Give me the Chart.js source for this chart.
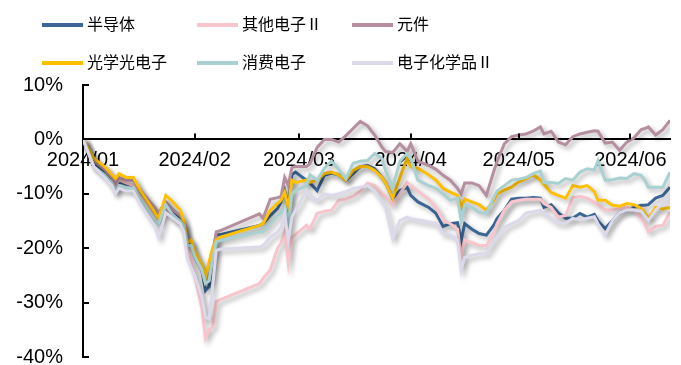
<!DOCTYPE html>
<html>
<head>
<meta charset="utf-8">
<script src="https://cdn.jsdelivr.net/npm/chart.js@4.4.1/dist/chart.umd.min.js"></script>
<style>
  body { margin: 0; background: #fff; }
  #wrap { position: relative; width: 681px; height: 365px; }
  #legend { position: absolute; left: 0; top: 0; width: 681px; height: 80px;
            font-family: "Noto Sans CJK SC", sans-serif; font-size: 16px; color: #000; }
  .item { position: absolute; height: 20px; line-height: 20px; white-space: nowrap; }
  .swatch { display: inline-block; width: 41px; height: 4px; vertical-align: middle; margin-right: 4px; margin-top: -2px; }
</style>
</head>
<body>
<div id="wrap">
  <canvas id="chart"></canvas>
  <div id="legend"></div>
</div>
<script>
// --- DATA (values in %) ---
const dates = [
  '2024-01-01','2024-01-04','2024-01-07','2024-01-09','2024-01-10','2024-01-11','2024-01-13','2024-01-15','2024-01-17',
  '2024-01-19','2024-01-21','2024-01-22','2024-01-24','2024-01-26','2024-01-28','2024-01-29','2024-01-30','2024-01-31',
  '2024-02-01','2024-02-03','2024-02-04','2024-02-05','2024-02-06','2024-02-07','2024-02-08',
  '2024-02-19','2024-02-20','2024-02-22','2024-02-24','2024-02-25','2024-02-26','2024-02-27','2024-02-28','2024-02-29',
  '2024-03-03','2024-03-04','2024-03-06','2024-03-08','2024-03-10','2024-03-12','2024-03-14','2024-03-16','2024-03-18',
  '2024-03-20','2024-03-22','2024-03-24','2024-03-25','2024-03-27','2024-03-29','2024-03-31',
  '2024-04-01','2024-04-03','2024-04-06','2024-04-08','2024-04-10','2024-04-12','2024-04-14','2024-04-15','2024-04-16',
  '2024-04-18','2024-04-20','2024-04-22','2024-04-24','2024-04-25','2024-04-27','2024-04-29',
  '2024-05-01','2024-05-03','2024-05-05','2024-05-07','2024-05-08','2024-05-10','2024-05-12','2024-05-14','2024-05-16',
  '2024-05-18','2024-05-20','2024-05-22','2024-05-23','2024-05-25','2024-05-27','2024-05-29','2024-05-31',
  '2024-06-02','2024-06-04','2024-06-05','2024-06-06','2024-06-08','2024-06-10','2024-06-12'
];

const semiconductor = [
  0, -4.5, -6, -7.5, -9, -7.8, -8.2, -8.5, -10, -12, -13.5, -14, -12, -13, -14.5, -15.5, -19.5, -19,
  -21.5, -24, -27.8, -27, -22, -17.6, -17.5,
  -15.8, -15.5, -14, -12.7, -11.5, -9.4, -12.5, -6.5, -6,
  -7.5, -8, -9.4, -6.6, -6.2, -6.5, -7.5, -6.3, -5, -4.8, -5.4, -7, -8, -10.8, -9.4, -8.8,
  -10.3, -11.5, -12.5, -13.6, -16, -15.5, -15.3, -18.6, -15.5, -16.5, -17.3, -17.6, -15.8, -14.5, -13, -11,
  -10.8, -10.8, -10.7, -10.8, -12.5, -12, -13.5, -14.5, -14.5, -13.6, -14.3, -13.8, -15, -16.4, -14.9, -13.5, -13,
  -12.5, -12.1, -12.1, -12, -10.8, -10.3, -8.8
];
const otherElec = [
  0, -3.5, -5.5, -7, -8.5, -7.5, -8, -8.5, -10.5, -12.5, -14.5, -15, -12.5, -14.5, -15.5, -16.5, -20, -22,
  -25, -31, -36.5, -35, -34.5, -29.8, -29.5,
  -26.5, -25.5, -24, -20, -19, -17, -22.8, -18, -17.5,
  -15.8, -16.5, -13.6, -13.2, -13, -11.2, -11, -10.5, -9.5, -8, -8.5, -10, -10.5, -12.1, -10, -7.9,
  -8.5, -9.5, -11, -12.5, -14.9, -15.5, -16.5, -21.7, -18.5, -19, -19.5, -19.5, -17.3, -15.5, -13, -11.5,
  -11.2, -11, -11, -11, -11.8, -12.5, -14.3, -14, -10.7, -10.5, -10.8, -11.6, -12, -13, -13, -12.7, -12.5,
  -13, -14.5, -15.5, -17, -16, -15.8, -13.4
];
const components = [
  0, -4, -5.5, -7, -8, -7, -7.5, -7.5, -9.5, -11, -12.5, -13.5, -11.5, -13, -14, -15, -18, -19,
  -21, -24, -26.5, -26, -21, -17, -16.8,
  -13.7, -14.5, -11, -10.7, -10.5, -7, -8.5, -5.2, -5,
  -5, -4.5, -1.5, 0, 0, -0.5, 0.7, 2, 3.3, 2.5, 0.8, -1.4, -2.2, -2.4, -0.8, -2.2,
  -0.8, -4, -4.8, -5.5, -6.6, -7.5, -9, -10, -8, -8, -8.5, -10.3, -6, -4, -0.8, 0.5,
  0.8, 1, 1.5, 2.3, 1, 1.5, -0.5, -1, 0.5, 1, 1.3, 1.6, 1.5, -0.7, -0.5, -2, -0.5,
  0.3, 1.8, 2, 2.3, 0.8, 1.8, 3.5
];
const optoelec = [
  0, -3.5, -5, -6.5, -7.2, -6.3, -7, -7, -9.5, -11.5, -13.5, -14.5, -10.3, -11.5, -13, -15, -19, -18.5,
  -20.5, -23, -25.3, -22.5, -20, -18.5, -18,
  -15.8, -15.5, -13, -11.8, -11.2, -9.7, -12.5, -7.5, -7.9,
  -7.5, -7.9, -7.5, -6.3, -6, -6.5, -7.5, -5.7, -5, -5, -5.7, -7, -8, -10.8, -7, -3.5,
  -5, -5.3, -6.5, -7.5, -9, -9.7, -10.3, -12.5, -11, -11.5, -12, -13, -11.2, -10, -9.3, -8.8,
  -7.8, -7.2, -6.5, -7.5, -8.3, -9.8, -10.3, -10.8, -8.5, -8.8, -8.5, -9.6, -11.2, -11.2, -12.1, -12.3, -11.8,
  -12, -12.7, -13.5, -14.5, -12.5, -12.8, -12.5
];
const consumer = [
  0, -5, -6.5, -8, -9.5, -8.5, -9, -9, -11, -13, -15, -15.5, -12, -14, -15, -16, -19.5, -19.5,
  -21.5, -24, -26.5, -26, -22, -18.8, -18.6,
  -17, -17, -15.5, -14, -13.5, -12.5, -15.5, -10, -9.4,
  -8.5, -6.5, -7.5, -5.3, -4, -5.5, -7.2, -4.4, -4, -3.9, -2.6, -3.5, -5.7, -8.8, -4, -2.6,
  -3.5, -7.5, -8.5, -9, -10, -11.2, -10.8, -14.9, -12, -12.5, -13.4, -13.6, -10.7, -9.5, -8.5, -7.5,
  -7.3, -7, -6.3, -5.8, -7.9, -7.9, -8.1, -7.2, -7.5, -6, -5.4, -5.6, -3.9, -7.5, -7.4, -7.1, -7.2,
  -6.3, -6.6, -7.5, -8.8, -8.8, -8.8, -6
];
const chemicals = [
  0, -5, -7, -8.5, -10, -9, -9.5, -9.5, -12, -14, -16, -18, -13.5, -14.5, -15.5, -17, -22, -23.5,
  -25, -29, -32.7, -33, -27, -20.4, -20.2,
  -19.8, -19.5, -18, -17, -16.2, -13.6, -18.6, -14.3, -13,
  -9.4, -10.5, -11.2, -10, -10.3, -10, -9.6, -9, -8.8, -8.5, -9.5, -11.5, -12.5, -18.2, -14.9, -14.3,
  -14.6, -14.8, -15.2, -15.4, -17.3, -17.5, -18.5, -24, -21.7, -21.3, -21, -21, -19, -18, -16.2, -15.5,
  -14.9, -13.5, -13.3, -13, -13.6, -14.5, -15.4, -15.4, -14.5, -14.8, -14.5, -14.2, -15.5, -17.6, -14.9, -13.5, -13,
  -13, -13.2, -14, -14.9, -13, -11.8, -10.3
];

const seriesNames = ['半导体', '其他电子Ⅱ', '元件', '光学光电子', '消费电子', '电子化学品Ⅱ'];
const seriesValues = [semiconductor, otherElec, components, optoelec, consumer, chemicals];
const seriesColors = ['#3B6696', '#F9C5CC', '#B58EA0', '#FFC000', '#A9D1D2', '#DCD9EA'];

const monthLabels = ['2024/01', '2024/02', '2024/03', '2024/04', '2024/05', '2024/06'];
const yTicks = [10, 0, -10, -20, -30, -40];

// --- HELPERS ---
const base = Date.UTC(2024, 0, 1);
function dayOf(str) {
  const p = str.split(/[-\/]/).map(Number);
  return Math.round((Date.UTC(p[0], p[1] - 1, p[2] || 1) - base) / 86400000);
}
const days = dates.map(dayOf);
const monthStarts = monthLabels.map(dayOf);

// --- LEGEND (3 columns x 2 rows) ---
const legend = document.getElementById('legend');
seriesNames.forEach((name, i) => {
  const col = i % 3, row = Math.floor(i / 3);
  const el = document.createElement('div');
  el.className = 'item';
  el.style.left = (42 + col * 155) + 'px';
  el.style.top = (13 + row * 38) + 'px';
  el.innerHTML = '<span class="swatch" style="background:' + seriesColors[i] + '"></span>' + name;
  legend.appendChild(el);
});

// --- PLUGIN: line shadows + inward tick marks ---
const decorations = {
  id: 'decorations',
  beforeDatasetsDraw(chart) {
    const ctx = chart.ctx;
    ctx.save();
    ctx.shadowColor = 'rgba(0,0,0,0.32)';
    ctx.shadowBlur = 5;
    ctx.shadowOffsetX = 3;
    ctx.shadowOffsetY = 3;
  },
  afterDatasetsDraw(chart) {
    chart.ctx.restore();
  },
  afterDraw(chart) {
    const { ctx, scales: { x, y } } = chart;
    const y0 = y.getPixelForValue(0);
    ctx.save();
    ctx.strokeStyle = '#000';
    ctx.lineWidth = 2;
    ctx.beginPath();
    y.ticks.forEach(t => {
      const py = Math.round(y.getPixelForValue(t.value));
      ctx.moveTo(x.left, py);
      ctx.lineTo(x.left + 6, py);
    });
    x.ticks.forEach(t => {
      const px = Math.round(x.getPixelForValue(t.value));
      ctx.moveTo(px, y0);
      ctx.lineTo(px, y0 - 6);
    });
    ctx.stroke();
    ctx.restore();
  }
};

// --- CHART ---
const n = seriesNames.length;
const ctx = document.getElementById('chart').getContext('2d');
new Chart(ctx, {
  type: 'line',
  data: {
    datasets: seriesNames.map((name, i) => ({
      label: name,
      data: seriesValues[i].map((v, k) => ({ x: days[k], y: v })),
      borderColor: seriesColors[i],
      borderWidth: 3,
      pointRadius: 0,
      tension: 0,
      fill: false,
      order: n - i // later series drawn on top
    }))
  },
  options: {
    responsive: true,
    maintainAspectRatio: false,
    animation: false,
    events: [],
    layout: { padding: { top: 85, left: 16, right: 11, bottom: 8 } },
    plugins: { legend: { display: false }, tooltip: { enabled: false } },
    scales: {
      x: {
        type: 'linear',
        position: { y: 0 },
        z: 1, // labels and zero line sit on top of the series
        min: days[0],
        max: days[days.length - 1],
        grid: { display: false, drawTicks: false },
        border: { display: true, color: '#000', width: 2 },
        afterBuildTicks: s => { s.ticks = monthStarts.map(v => ({ value: v })); },
        // axis sits on the zero line, so it should not reserve any room
        afterFit: s => { s.height = 0; s.paddingLeft = 0; s.paddingRight = 0; },
        ticks: {
          autoSkip: false,
          maxRotation: 0,
          padding: 9,
          color: '#000',
          font: { family: '"Liberation Sans", Arial, sans-serif', size: 20 },
          callback: (v, i) => monthLabels[i]
        }
      },
      y: {
        min: yTicks[yTicks.length - 1],
        max: yTicks[0],
        grid: { display: false, drawTicks: false },
        border: { display: true, color: '#000', width: 2 },
        afterBuildTicks: s => { s.ticks = yTicks.map(v => ({ value: v })); },
        afterFit: s => { s.width = 67; s.paddingTop = 0; s.paddingBottom = 0; },
        ticks: {
          padding: 20,
          color: '#000',
          font: { family: '"Liberation Sans", Arial, sans-serif', size: 20 },
          callback: v => v + '%'
        }
      }
    }
  },
  plugins: [decorations]
});
</script>
</body>
</html>
